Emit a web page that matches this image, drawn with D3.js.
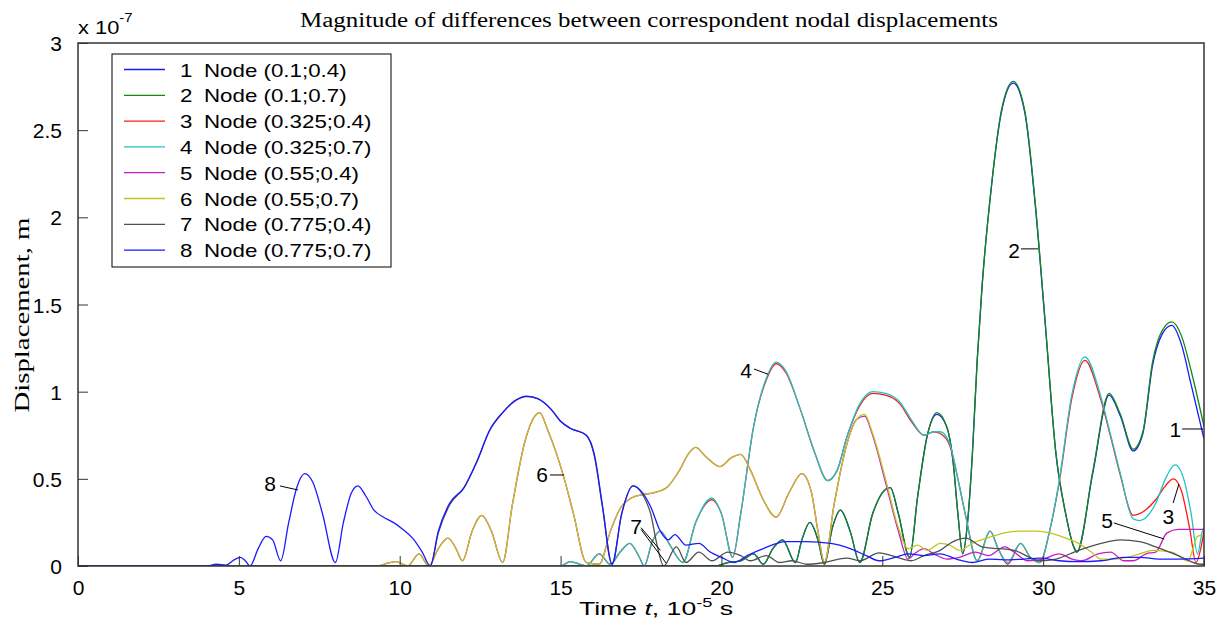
<!DOCTYPE html>
<html>
<head>
<meta charset="utf-8">
<script src="https://cdn.jsdelivr.net/npm/d3@7"></script>
<style>
  body { margin: 0; background: #fff; }
  svg { display: block; font-family: 'Liberation Sans', Arial, sans-serif; }
</style>
</head>
<body>
<div id="chart"></div>
<script>
/* global d3 */

// time in 1e-5 s, displacement difference in 1e-7 m
var node1 = [[0,0],[19.8,0],[20.2,0.02],[20.6,0.03],[21.0,0.07],[21.3,0.01],[21.6,0.1],[21.9,0.15],[22.3,0.02],[22.5,0.15],[22.75,0.25],[23.0,0.15],[23.2,0.01],[23.45,0.22],[23.7,0.32],[24.0,0.2],[24.3,0.02],[24.7,0.3],[25.0,0.42],[25.25,0.45],[25.5,0.3],[25.85,0.05],[26.1,0.4],[26.4,0.75],[26.7,0.87],[27.0,0.8],[27.2,0.6],[27.35,0.3],[27.5,0.07],[27.65,0.25],[27.8,0.64],[27.95,1.18],[28.1,1.6],[28.4,2.19],[28.7,2.6],[29.07,2.77],[29.43,2.6],[29.75,2.08],[30.06,1.4],[30.4,0.64],[30.7,0.3],[30.95,0.11],[31.05,0.08],[31.55,0.54],[32.05,0.98],[32.4,0.86],[32.8,0.66],[33.1,0.76],[33.4,1.15],[33.7,1.33],[34.0,1.38],[34.3,1.27],[34.6,1.04],[35,0.73]];
var node2 = [[0,0],[19.8,0],[20.2,0.02],[20.6,0.03],[21.0,0.07],[21.3,0.01],[21.6,0.1],[21.9,0.15],[22.3,0.02],[22.5,0.15],[22.75,0.25],[23.0,0.15],[23.2,0.01],[23.45,0.22],[23.7,0.32],[24.0,0.2],[24.3,0.02],[24.7,0.3],[25.0,0.42],[25.25,0.45],[25.5,0.3],[25.85,0.05],[26.1,0.4],[26.4,0.75],[26.7,0.88],[27.0,0.8],[27.2,0.6],[27.35,0.3],[27.5,0.07],[27.65,0.25],[27.8,0.64],[27.95,1.18],[28.1,1.6],[28.4,2.19],[28.7,2.61],[29.07,2.78],[29.43,2.61],[29.75,2.09],[30.06,1.41],[30.4,0.64],[30.7,0.3],[30.95,0.11],[31.05,0.08],[31.55,0.55],[32.05,0.99],[32.4,0.87],[32.8,0.67],[33.1,0.77],[33.4,1.17],[33.7,1.35],[34.0,1.4],[34.3,1.32],[34.6,1.12],[35,0.8]];
var node3 = [[0,0],[15.0,0],[15.3,0.025],[15.6,0.01],[15.8,0.0],[16.2,0.07],[16.55,0.01],[16.85,0.08],[17.15,0.13],[17.45,0.05],[17.6,0],[17.85,0.14],[18.1,0.2],[18.4,0.12],[18.8,0.02],[19.2,0.25],[19.7,0.38],[20.0,0.3],[20.35,0.05],[20.6,0.3],[21.0,0.8],[21.4,1.07],[21.7,1.16],[22.0,1.11],[22.45,0.9],[22.9,0.65],[23.3,0.49],[23.6,0.55],[23.9,0.74],[24.3,0.92],[24.7,0.99],[25.1,0.98],[25.55,0.93],[25.9,0.83],[26.3,0.75],[26.6,0.77],[26.8,0.76],[27.1,0.69],[27.35,0.5],[27.6,0.28],[27.95,0.03],[28.35,0.2],[28.6,0.1],[28.9,0.01],[29.3,0.13],[29.6,0.05],[29.9,0.02],[30.2,0.2],[30.5,0.48],[30.9,0.97],[31.3,1.18],[31.75,0.98],[32.1,0.74],[32.4,0.52],[32.8,0.29],[33.0,0.3],[33.5,0.38],[33.8,0.46],[34.05,0.5],[34.3,0.43],[34.55,0.22],[34.75,0.02],[34.9,0.1],[35,0.2]];
var node4 = [[0,0],[15.0,0],[15.3,0.025],[15.6,0.01],[15.8,0.0],[16.2,0.07],[16.55,0.01],[16.85,0.08],[17.15,0.13],[17.45,0.05],[17.6,0],[17.85,0.14],[18.1,0.2],[18.4,0.12],[18.8,0.02],[19.2,0.25],[19.7,0.39],[20.0,0.3],[20.35,0.05],[20.6,0.3],[21.0,0.8],[21.4,1.08],[21.7,1.17],[22.0,1.12],[22.45,0.9],[22.9,0.65],[23.3,0.49],[23.6,0.55],[23.9,0.74],[24.3,0.93],[24.7,1.0],[25.1,0.99],[25.55,0.94],[25.9,0.84],[26.3,0.75],[26.6,0.77],[26.8,0.77],[27.1,0.7],[27.35,0.5],[27.6,0.28],[27.95,0.03],[28.35,0.2],[28.6,0.1],[28.9,0.02],[29.3,0.13],[29.6,0.05],[29.9,0.02],[30.2,0.2],[30.5,0.49],[30.9,0.99],[31.3,1.2],[31.75,1.0],[32.1,0.75],[32.4,0.53],[32.8,0.27],[33.0,0.26],[33.5,0.36],[33.8,0.5],[34.1,0.58],[34.4,0.48],[34.6,0.3],[34.8,0.07],[34.95,0.2],[35,0.22]];
var node5 = [[0,0],[9.3,0],[9.6,0.015],[9.9,0.025],[10.1,0.01],[10.25,0],[10.6,0.07],[10.9,0.0],[11.2,0.1],[11.5,0.16],[11.75,0.1],[11.95,0.03],[12.25,0.2],[12.55,0.29],[12.85,0.2],[13.2,0.02],[13.5,0.35],[13.9,0.72],[14.2,0.86],[14.35,0.88],[14.6,0.78],[15.1,0.51],[15.4,0.3],[15.8,0.02],[16.2,0.01],[16.55,0.2],[16.85,0.33],[17.2,0.39],[17.55,0.41],[17.9,0.42],[18.3,0.45],[18.7,0.55],[19.0,0.65],[19.2,0.68],[19.5,0.63],[19.95,0.57],[20.3,0.62],[20.6,0.64],[20.9,0.55],[21.3,0.38],[21.7,0.28],[22.1,0.42],[22.5,0.53],[22.8,0.42],[23.0,0.2],[23.2,0.02],[23.5,0.35],[23.9,0.7],[24.2,0.84],[24.45,0.86],[24.7,0.75],[25.1,0.48],[25.5,0.2],[25.8,0.04],[26.0,0.07],[26.3,0.1],[26.6,0.07],[27.0,0.04],[27.4,0.05],[27.9,0.08],[28.3,0.06],[28.8,0.11],[29.1,0.08],[29.5,0.03],[30.0,0.04],[30.5,0.07],[30.9,0.04],[31.2,0.03],[31.7,0.07],[32.1,0.08],[32.5,0.03],[32.8,0.03],[33.2,0.07],[33.5,0.08],[33.85,0.19],[34.2,0.21],[35,0.21]];
var node6 = [[0,0],[9.3,0],[9.6,0.015],[9.9,0.025],[10.1,0.01],[10.25,0],[10.6,0.07],[10.9,0.0],[11.2,0.1],[11.5,0.16],[11.75,0.1],[11.95,0.03],[12.25,0.2],[12.55,0.29],[12.85,0.2],[13.2,0.02],[13.5,0.35],[13.9,0.72],[14.2,0.86],[14.35,0.88],[14.6,0.78],[15.1,0.51],[15.4,0.3],[15.8,0.02],[16.2,0.01],[16.55,0.2],[16.85,0.33],[17.2,0.39],[17.55,0.41],[17.9,0.42],[18.3,0.45],[18.7,0.55],[19.0,0.65],[19.2,0.68],[19.5,0.63],[19.95,0.57],[20.3,0.62],[20.6,0.64],[20.9,0.55],[21.3,0.38],[21.7,0.28],[22.1,0.42],[22.5,0.53],[22.8,0.42],[23.0,0.2],[23.2,0.02],[23.5,0.35],[23.9,0.7],[24.2,0.84],[24.45,0.87],[24.7,0.76],[25.1,0.5],[25.5,0.22],[25.8,0.1],[26.1,0.12],[26.4,0.09],[26.8,0.13],[27.1,0.12],[27.4,0.09],[27.8,0.13],[28.25,0.16],[28.8,0.19],[29.2,0.2],[29.8,0.2],[30.2,0.19],[30.7,0.16],[31.1,0.13],[31.5,0.08],[31.8,0.04],[32.2,0.04],[32.6,0.05],[33.0,0.07],[33.4,0.09],[34.0,0.08],[34.5,0.03],[34.8,0.17],[35,0.18]];
var node7 = [[0,0],[10.95,0],[11.2,0.19],[11.55,0.35],[12.0,0.45],[12.4,0.6],[12.8,0.78],[13.2,0.88],[13.6,0.95],[13.95,0.972],[14.3,0.958],[14.7,0.9],[15.0,0.83],[15.3,0.79],[15.8,0.75],[16.05,0.63],[16.3,0.34],[16.6,0.01],[16.9,0.3],[17.25,0.46],[17.55,0.41],[17.8,0.3],[18.0,0.12],[18.2,0.0],[18.6,0.11],[18.9,0.02],[19.3,0.08],[19.7,0.03],[20.2,0.08],[20.6,0.06],[20.9,0.03],[21.4,0.06],[21.8,0.02],[22.2,0.03],[22.65,0.01],[23.2,0.02],[23.9,0.045],[24.3,0.03],[24.9,0.075],[25.45,0.05],[25.9,0.03],[26.3,0.06],[26.8,0.09],[27.2,0.14],[27.6,0.16],[28.1,0.11],[29.1,0.09],[29.9,0.03],[30.4,0.04],[31.1,0.09],[31.8,0.13],[32.4,0.15],[33.0,0.14],[33.5,0.11],[34.2,0.06],[34.9,0.01],[35,0.01]];
var node8 = [[0,0],[4.0,0],[4.3,0.01],[4.6,0.005],[4.85,0.035],[5.05,0.05],[5.2,0.03],[5.35,0.0],[5.6,0.1],[5.85,0.17],[6.05,0.15],[6.3,0.03],[6.55,0.25],[6.8,0.45],[7.05,0.53],[7.3,0.48],[7.6,0.3],[8.0,0.02],[8.25,0.25],[8.5,0.42],[8.7,0.46],[8.95,0.4],[9.2,0.32],[9.5,0.28],[9.8,0.25],[10.1,0.21],[10.4,0.16],[10.7,0.08],[10.95,0.0],[11.2,0.2],[11.55,0.36],[12.0,0.45],[12.4,0.6],[12.8,0.78],[13.2,0.88],[13.6,0.95],[13.95,0.975],[14.3,0.96],[14.7,0.9],[15.0,0.83],[15.3,0.79],[15.8,0.75],[16.05,0.64],[16.3,0.35],[16.6,0.01],[16.9,0.3],[17.25,0.46],[17.55,0.42],[17.8,0.34],[18.1,0.2],[18.35,0.15],[18.55,0.18],[18.9,0.12],[19.3,0.13],[19.65,0.08],[20.0,0.05],[20.4,0.02],[20.8,0.06],[21.3,0.1],[22.0,0.14],[22.6,0.14],[23.4,0.13],[24.0,0.1],[24.5,0.06],[24.9,0.03],[25.4,0.05],[25.8,0.07],[26.3,0.06],[26.8,0.07],[27.3,0.04],[27.8,0.02],[28.3,0.04],[28.8,0.035],[29.4,0.04],[29.9,0.045],[30.5,0.03],[31.1,0.025],[31.8,0.03],[32.5,0.05],[33.0,0.05],[33.6,0.04],[34.2,0.04],[35,0.045]];

var series = [node1, node2, node3, node4, node5, node6, node7, node8];
var nodeNames = ['Node (0.1;0.4)', 'Node (0.1;0.7)', 'Node (0.325;0.4)', 'Node (0.325;0.7)',
  'Node (0.55;0.4)', 'Node (0.55;0.7)', 'Node (0.775;0.4)', 'Node (0.775;0.7)'];
// matlab default color order, wraps to blue for the 8th line
var nodeColors = ['#1a1aff', '#128a12', '#ff1a1a', '#1ec4c4', '#c41ec4', '#c4c41e', '#505050', '#1a1aff'];

var xTicks = [0, 5, 10, 15, 20, 25, 30, 35];
var yTicks = [0, 0.5, 1, 1.5, 2, 2.5, 3];
var yTickLabels = ['0', '0.5', '1', '1.5', '2', '2.5', '3'];

// curve labels: text anchor and leader lines, in data units
var curveLabels = [
  {text: '8', at: [6.15, 0.43], lines: [[[6.28, 0.459], [6.84, 0.436]]]},
  {text: '6', at: [14.61, 0.482], lines: [[[14.67, 0.522], [15.11, 0.522]]]},
  {text: '7', at: [17.53, 0.184], lines: [[[17.5, 0.22], [18.1, 0.09]], [[17.5, 0.21], [18.28, 0.017]]]},
  {text: '4', at: [20.95, 1.079], lines: [[[21.01, 1.13], [21.45, 1.10]]]},
  {text: '2', at: [29.28, 1.767], lines: [[[29.31, 1.819], [29.84, 1.819]]]},
  {text: '1', at: [34.29, 0.74], lines: [[[34.32, 0.786], [34.97, 0.786]]]},
  {text: '3', at: [34.07, 0.241], lines: [[[34.04, 0.361], [34.22, 0.47]]]},
  {text: '5', at: [32.17, 0.218], lines: [[[32.2, 0.247], [33.76, 0.155]]]}
];

var WIDTH = 1224;
var HEIGHT = 628;
var margin = {top: 43, right: 20, bottom: 62, left: 78};

var svg = d3.select('#chart')
  .append('svg')
  .attr('width', WIDTH)
  .attr('height', HEIGHT)
  .style('background', 'white');

var x = d3.scaleLinear().domain([0, 35]).range([margin.left, WIDTH - margin.right]);
var y = d3.scaleLinear().domain([0, 3]).range([HEIGHT - margin.bottom, margin.top]);

svg.append('clipPath')
  .attr('id', 'plot-clip')
  .append('rect')
  .attr('x', x(0))
  .attr('y', y(3))
  .attr('width', x(35) - x(0))
  .attr('height', y(0) - y(3));

var line = d3.line()
  .x(function(d) { return x(d[0]); })
  .y(function(d) { return y(d[1]); })
  .curve(d3.curveMonotoneX);

svg.append('g')
  .attr('clip-path', 'url(#plot-clip)')
  .selectAll('path')
  .data(series)
  .enter()
  .append('path')
  .attr('d', line)
  .attr('fill', 'none')
  .attr('stroke', function(d, i) { return nodeColors[i]; })
  .attr('stroke-width', 1.3)
  .attr('stroke-linejoin', 'round');

// axes: ticks point inwards, box drawn separately
var xAxis = d3.axisBottom(x).tickValues(xTicks).tickSizeInner(-10).tickSizeOuter(0).tickPadding(14);
var yAxis = d3.axisLeft(y).tickValues(yTicks).tickSizeInner(-10).tickSizeOuter(0).tickPadding(16)
  .tickFormat(function(d, i) { return yTickLabels[i]; });

var gx = svg.append('g').attr('transform', 'translate(0,' + y(0) + ')').call(xAxis);
var gy = svg.append('g').attr('transform', 'translate(' + x(0) + ',0)').call(yAxis);

[gx, gy].forEach(function(g) {
  g.select('.domain').remove();
  g.selectAll('.tick line').attr('stroke', '#333').attr('stroke-width', 1);
  g.selectAll('.tick text')
    .attr('fill', '#000')
    .attr('font-size', '21px')
    .attr('font-family', "'Liberation Sans', Arial, sans-serif");
});
gx.selectAll('.tick text').attr('dy', '0.71em');
gy.selectAll('.tick text').attr('dy', '0.36em');

svg.append('rect')
  .attr('x', x(0))
  .attr('y', y(3))
  .attr('width', x(35) - x(0))
  .attr('height', y(0) - y(3))
  .attr('fill', 'none')
  .attr('stroke', '#333')
  .attr('stroke-width', 1.5);

// exponent above the y axis
var expo = svg.append('text')
  .attr('transform', 'translate(' + x(0) + ',34) scale(1.15,1)')
  .attr('font-size', '19px')
  .attr('fill', '#000');
expo.append('tspan').text('x 10');
expo.append('tspan').attr('dy', -12).attr('font-size', '13px').text('-7');

// title and axis labels
svg.append('text')
  .attr('x', 649)
  .attr('y', 27)
  .attr('text-anchor', 'middle')
  .attr('font-family', "'Liberation Serif', 'Times New Roman', serif")
  .attr('font-size', '20px')
  .attr('textLength', 698)
  .attr('lengthAdjust', 'spacingAndGlyphs')
  .text('Magnitude of differences between correspondent nodal displacements');

svg.append('text')
  .attr('transform', 'translate(29,315) rotate(-90)')
  .attr('text-anchor', 'middle')
  .attr('font-family', "'Liberation Serif', 'Times New Roman', serif")
  .attr('font-size', '21px')
  .attr('textLength', 195)
  .attr('lengthAdjust', 'spacingAndGlyphs')
  .text('Displacement, m');

var xl = svg.append('text')
  .attr('transform', 'translate(656,615) scale(1.4,1)')
  .attr('text-anchor', 'middle')
  .attr('font-size', '19px');
xl.append('tspan').text('Time ');
xl.append('tspan').attr('font-style', 'italic').text('t');
xl.append('tspan').text(', 10');
xl.append('tspan').attr('dy', -8).attr('font-size', '13px').text('-5');
xl.append('tspan').attr('dy', 8).text(' s');

// curve number labels
var lab = svg.append('g').selectAll('g')
  .data(curveLabels)
  .enter()
  .append('g');

lab.selectAll('line')
  .data(function(d) { return d.lines; })
  .enter()
  .append('line')
  .attr('x1', function(d) { return x(d[0][0]); })
  .attr('y1', function(d) { return y(d[0][1]); })
  .attr('x2', function(d) { return x(d[1][0]); })
  .attr('y2', function(d) { return y(d[1][1]); })
  .attr('stroke', '#000')
  .attr('stroke-width', 1);

lab.append('text')
  .attr('x', function(d) { return x(d.at[0]); })
  .attr('y', function(d) { return y(d.at[1]); })
  .attr('text-anchor', 'end')
  .attr('font-size', '21px')
  .attr('fill', '#000')
  .text(function(d) { return d.text; });

// legend
var legend = svg.append('g');
legend.append('rect')
  .attr('x', 112)
  .attr('y', 54)
  .attr('width', 279)
  .attr('height', 213)
  .attr('fill', '#fff')
  .attr('stroke', '#000')
  .attr('stroke-width', 1);

var rows = legend.selectAll('g.row')
  .data(nodeNames)
  .enter()
  .append('g')
  .attr('class', 'row')
  .attr('transform', function(d, i) { return 'translate(0,' + (69.5 + i * 25.8) + ')'; });

rows.append('line')
  .attr('x1', 124)
  .attr('x2', 165)
  .attr('stroke', function(d, i) { return nodeColors[i]; })
  .attr('stroke-width', 1.3);

rows.append('text')
  .attr('transform', 'translate(180,7) scale(1.24,1)')
  .attr('font-size', '18px')
  .text(function(d, i) { return i + 1; });

rows.append('text')
  .attr('transform', 'translate(204,7) scale(1.24,1)')
  .attr('font-size', '18px')
  .text(function(d) { return d; });
</script>
</body>
</html>
